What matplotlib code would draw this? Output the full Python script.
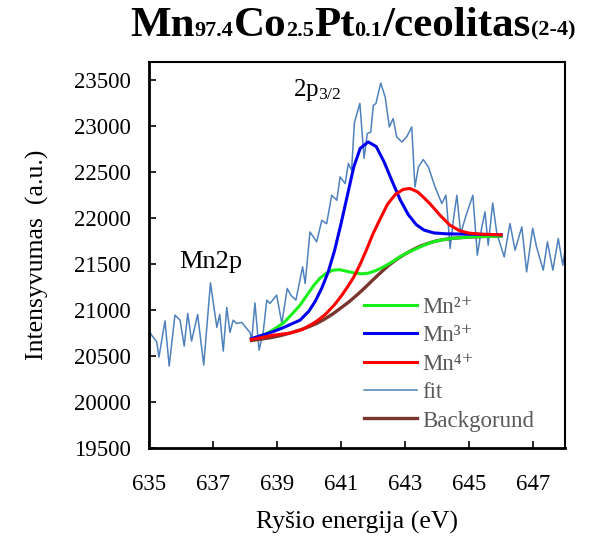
import matplotlib
matplotlib.use("Agg")
import matplotlib.pyplot as plt
from matplotlib.offsetbox import TextArea, HPacker, AnchoredOffsetbox

plt.rcParams["font.family"] = ["Liberation Serif", "DejaVu Serif"]
plt.rcParams["mathtext.fontset"] = "custom"
plt.rcParams["mathtext.rm"] = "Liberation Serif"
plt.rcParams["mathtext.it"] = "Liberation Serif:italic"
plt.rcParams["mathtext.bf"] = "Liberation Serif:bold"

# ── Measured spectrum (Mn 2p region) ──────────────────────────────────────────
fit_x = [635.00, 635.08, 635.24, 635.31, 635.50, 635.63, 635.81, 635.97, 636.10, 636.21,
         636.33, 636.52, 636.71, 636.92, 637.12, 637.21, 637.32, 637.43, 637.53, 637.63,
         637.74, 637.90, 638.16, 638.21, 638.31, 638.44, 638.57, 638.68, 638.78, 638.99,
         639.15, 639.32, 639.43, 639.59, 639.80, 639.88, 640.03, 640.24, 640.40, 640.55,
         640.71, 640.87, 640.97, 641.13, 641.23, 641.33, 641.42, 641.59, 641.72, 641.82,
         641.93, 642.01, 642.09, 642.24, 642.38, 642.51, 642.63, 642.74, 642.90, 643.05,
         643.21, 643.31, 643.42, 643.57, 643.73, 643.94, 644.15, 644.28, 644.41, 644.51,
         644.62, 644.74, 644.91, 645.12, 645.26, 645.40, 645.50, 645.60, 645.74, 645.87,
         646.10, 646.28, 646.44, 646.65, 646.80, 646.99, 647.11, 647.32, 647.45, 647.62,
         647.79, 647.93, 648.05]
fit_y = [20783, 20728, 20655, 20489, 20884, 20391, 20946, 20891, 20609, 20964,
         20663, 20953, 20402, 21297, 20812, 20953, 20554, 21029, 20758, 20891,
         20855, 20866, 20754, 20674, 21079, 20565, 20764, 21109, 21073, 21163,
         20856, 21236, 21163, 21109, 21471, 21290, 21851, 21743, 21978, 21940,
         22250, 22196, 22449, 22377, 22595, 22522, 23043, 23250, 22652, 22921,
         22938, 23228, 23247, 23471, 23319, 22993, 23084, 22884, 22830, 22884,
         22993, 22340, 22558, 22638, 22558, 22340, 22160, 22250, 21671, 21978,
         22250, 21834, 22033, 22250, 21598, 21906, 22069, 21707, 22166, 21834,
         21579, 21942, 21652, 21906, 21416, 21891, 21688, 21435, 21743, 21435,
         21779, 21489, 21761]

# ── Fitted components (each drawn on top of the background) ─────────────────
mn2_x = [638.20, 638.60, 638.90, 639.20, 639.45, 639.72, 639.95, 640.15, 640.35, 640.55,
         640.75, 640.95, 641.15, 641.40, 641.65, 641.85, 642.05, 642.30, 642.55, 642.84,
         643.10, 643.37, 643.65, 643.90, 644.20, 644.50, 645.10, 646.00]
mn2_y = [20685, 20730, 20790, 20860, 20950, 21054, 21170, 21270, 21350, 21405,
         21435, 21440, 21425, 21405, 21395, 21402, 21425, 21465, 21515, 21580,
         21630, 21671, 21715, 21745, 21767, 21782, 21797, 21806]

mn3_x = [638.20, 638.84, 639.20, 639.72, 640.00, 640.20, 640.40, 640.60, 640.80, 641.00,
         641.20, 641.40, 641.60, 641.85, 642.10, 642.35, 642.60, 642.85, 643.10, 643.35,
         643.60, 643.90, 644.30, 645.13, 646.00]
mn3_y = [20690, 20761, 20810, 20891, 20990, 21100, 21240, 21416, 21650, 21940,
         22250, 22560, 22760, 22830, 22780, 22610, 22400, 22200, 22040, 21930,
         21870, 21840, 21830, 21826, 21820]

mn4_x = [638.20, 638.90, 639.40, 639.80, 640.20, 640.50, 640.80, 641.00, 641.20, 641.40,
         641.60, 641.80, 642.00, 642.20, 642.45, 642.70, 642.95, 643.16, 643.40, 643.60,
         643.80, 644.10, 644.40, 644.70, 645.00, 645.40, 646.00]
mn4_y = [20680, 20728, 20750, 20790, 20870, 20950, 21060, 21150, 21250, 21360,
         21500, 21660, 21830, 21975, 22150, 22260, 22315, 22323, 22285, 22220,
         22150, 22030, 21925, 21865, 21838, 21826, 21820]

bg_x = [638.20, 638.50, 638.80, 639.10, 639.40, 639.70, 640.00, 640.25, 640.50, 640.75,
        641.00, 641.25, 641.50, 641.75, 642.00, 642.25, 642.50, 642.75, 643.00, 643.25,
        643.50, 643.75, 644.00, 644.25, 644.50, 645.00, 645.50, 646.00]
bg_y = [20670, 20685, 20700, 20722, 20750, 20782, 20820, 20857, 20905, 20960,
        21025, 21090, 21165, 21245, 21330, 21412, 21490, 21555, 21610, 21658,
        21700, 21730, 21755, 21770, 21782, 21795, 21802, 21806]

x_ticks = [635, 637, 639, 641, 643, 645, 647]
y_ticks = [19500, 20000, 20500, 21000, 21500, 22000, 22500, 23000, 23500]

# ── Plot ───────────────────────────────────────────────────────────────────────
fig = plt.figure(figsize=(6.05, 5.38), dpi=100)
ax = fig.add_axes([0.2463, 0.1673, 0.6876, 0.7175])

h_fit, = ax.plot(fit_x, fit_y, color="#4F81BD", lw=1.1, label="fit", zorder=2)
h_bg, = ax.plot(bg_x, bg_y, color="#7A352F", lw=2.4, label="Backgorund", zorder=3)
h2, = ax.plot(mn2_x, mn2_y, color="#19F019", lw=2.2, label="Mn²⁺", zorder=4)
h4, = ax.plot(mn4_x, mn4_y, color="#FF0000", lw=2.2, label="Mn⁴⁺", zorder=5)
h3, = ax.plot(mn3_x, mn3_y, color="#0000F0", lw=2.2, label="Mn³⁺", zorder=4)

ax.set_xlim(635, 648)
ax.set_ylim(19500, 23700)
ax.set_xticks(x_ticks)
ax.set_yticks(y_ticks)
ax.tick_params(direction="in", length=5, width=1.2, labelsize=16.5,
               top=False, right=False)
ax.tick_params(axis="x", pad=19)
ax.tick_params(axis="y", pad=13)
for side in ("left", "bottom"):
    ax.spines[side].set_linewidth(2.0)
for side in ("top", "right"):
    ax.spines[side].set_linewidth(1.5)

ax.set_xlabel("Ryšio energija (eV)", fontsize=18.5, labelpad=11)
ax.set_ylabel("Intensyvumas  (a.u.)", fontsize=18.5, labelpad=18)

ax.text(635.95, 21520, "Mn2p", fontsize=19, ha="left", va="center")
ax.text(639.5, 23400, r"2p$_{3/2}$", fontsize=18, ha="left", va="center")

# Title with small subscripts, built piece by piece on a shared baseline
big = dict(fontsize=31, fontweight="bold")
small = dict(fontsize=16, fontweight="bold")
title_parts = [("Mn", big), ("97.4", small), ("Co", big), ("2.5", small),
               ("Pt", big), ("0.1", small), ("/ceolitas", big), ("(2-4)", small)]
title_box = HPacker(children=[TextArea(s, textprops=p) for s, p in title_parts],
                    align="baseline", pad=0, sep=0)
fig.add_artist(AnchoredOffsetbox(loc="center", child=title_box, frameon=False,
                                 bbox_to_anchor=(0.583, 0.952),
                                 bbox_transform=fig.transFigure,
                                 pad=0, borderpad=0))

leg = ax.legend(handles=[h2, h3, h4, h_fit, h_bg], loc="upper left",
                bbox_to_anchor=(0.495, 0.415), frameon=False, fontsize=16.5,
                handlelength=2.3, handletextpad=0.25, labelspacing=0.32,
                borderaxespad=0)
for t in leg.get_texts():
    t.set_color("#595959")

fig.savefig("out.png", dpi=100)
